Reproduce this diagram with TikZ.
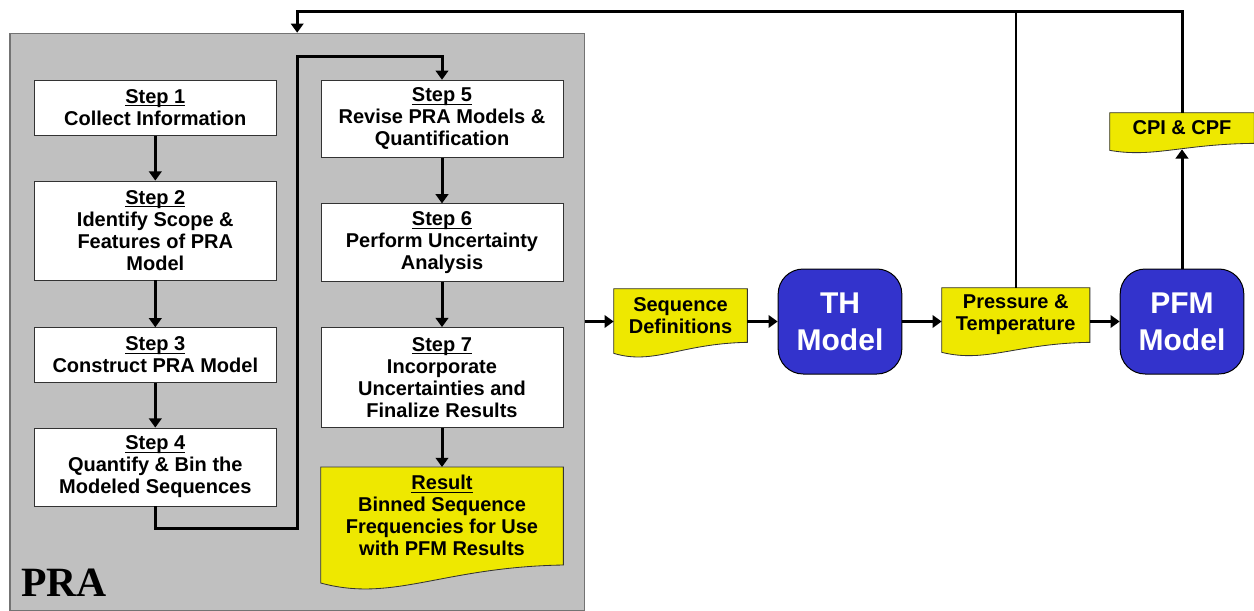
\documentclass[tikz,border=0pt]{standalone}
\usepackage{fontspec}
\setmainfont{Liberation Sans}
\newfontfamily\praserif{Liberation Serif}
\usetikzlibrary{arrows.meta,calc}

\definecolor{pragray}{RGB}{192,192,192}
\definecolor{docyellow}{RGB}{238,232,0}
\definecolor{modelblue}{RGB}{51,51,204}

\pgfdeclarelayer{bg}
\pgfdeclarelayer{docs}
\pgfsetlayers{bg,docs,main}

\newcommand\steplabel[1]{\underline{\smash{#1}}\vphantom{A}}

\tikzset{
  flow/.style={line width=1.8pt,-{Triangle[length=5.5pt,width=7.5pt]}},
  stepbox/.style={draw=black!80,fill=white,line width=0.5pt,minimum width=145.2pt,
    align=center,inner sep=2pt,font=\bfseries\fontsize{12}{13.2}\selectfont},
  docbox/.style={align=center,inner sep=0pt,font=\bfseries\fontsize{12}{13.2}\selectfont},
  modelbox/.style={draw=black,fill=modelblue,text=white,rounded corners=15pt,line width=0.6pt,
    minimum width=74.2pt,minimum height=63pt,align=center,font=\bfseries\fontsize{18}{22}\selectfont},
  prabox/.style={draw=black!55,fill=pragray,line width=0.8pt,minimum width=344.6pt,minimum height=346.6pt}
}

% yellow document outline with wavy bottom, #2 = wave depth
\newcommand\docshape[2]{%
  \filldraw[fill=docyellow,draw=black!80,line width=0.5pt] (#1.north west) -- (#1.north east) -- (#1.south east)
    .. controls ($(#1.south east)!0.5!(#1.south west)+(0,0.11*#2)$) and ($(#1.south east)!0.7!(#1.south west)+(0,2.1*#2)$)
    .. ($(#1.south west)+(0,#2)$) -- cycle;}

\begin{document}
\begin{tikzpicture}[x=0.6pt,y=-0.6pt]
\useasboundingbox (0,0) rectangle (1254,610);

\begin{pgfonlayer}{bg}
  \node[prabox] (pra) at (297.2,322.2) {};
\end{pgfonlayer}
\node[anchor=base west,inner sep=0pt,font=\praserif\bfseries\fontsize{25}{25}\selectfont] (pralabel) at (21,596.7) {PRA};

% steps
\node[stepbox,minimum height=33pt] (step1) at (155.3,107.7) {\steplabel{Step 1}\\Collect Information};
\node[stepbox,minimum height=59.4pt] (step2) at (155.3,230.5) {\steplabel{Step 2}\\Identify Scope \&\\Features of PRA\\Model};
\node[stepbox,minimum height=33pt] (step3) at (155.3,355.2) {\steplabel{Step 3}\\Construct PRA Model};
\node[stepbox,minimum height=46.8pt] (step4) at (155.3,467) {\steplabel{Step 4}\\Quantify \& Bin the\\Modeled Sequences};
\node[stepbox,minimum height=46.2pt] (step5) at (442,118.7) {\steplabel{Step 5}\\Revise PRA Models \&\\Quantification};
\node[stepbox,minimum height=46.8pt] (step6) at (442,242.8) {\steplabel{Step 6}\\Perform Uncertainty\\Analysis};
\node[stepbox,minimum height=60pt] (step7) at (442,377.5) {\steplabel{Step 7}\\Incorporate\\Uncertainties and\\Finalize Results};
\node[docbox,minimum width=145.2pt,minimum height=58.4pt] (result) at (442,516) {\steplabel{Result}\\Binned Sequence\\Frequencies for Use\\with PFM Results};

% models and data
\node[docbox,minimum width=79.8pt,minimum height=31.8pt] (seqdef) at (680.5,315.5) {Sequence\\Definitions};
\node[modelbox] (th) at (840,321.5) {TH\\Model};
\node[docbox,minimum width=88.5pt,minimum height=32.4pt] (press) at (1015.75,315) {Pressure \&\\Temperature};
\node[modelbox] (pfm) at (1182,321.5) {PFM\\Model};
\node[docbox,minimum width=86.4pt,minimum height=18pt] (cpi) at (1182,128) {CPI \& CPF};

\begin{pgfonlayer}{docs}
  \docshape{result}{18}
  \docshape{seqdef}{11}
  \docshape{press}{10}
  \docshape{cpi}{7}
\end{pgfonlayer}

\coordinate (loopa) at (297.7,528.3);
\coordinate (loopb) at (297.7,56);
\coordinate (fbtop) at (297.2,11);

\draw[flow] (step1) -- (step2);
\draw[flow] (step2) -- (step3);
\draw[flow] (step3) -- (step4);
\draw[flow] (step4.south) |- (loopa) -- (loopb) -| (step5.north);
\draw[flow] (step5) -- (step6);
\draw[flow] (step6) -- (step7);
\draw[flow] (step7) -- (result);

\draw[flow] (pra.east |- th) -- (seqdef.west |- th);
\draw[flow] (seqdef.east |- th) -- (th.west);
\draw[flow] (th.east) -- (press.west |- th);
\draw[flow] (press.east |- th) -- (pfm.west);
\draw[flow] (pfm.north) -- ($(cpi.south)+(0,6)$);
\draw[flow] (cpi.north) |- (fbtop) -- (pra.north);
\draw[line width=1.2pt] (press.north) -- (press.north |- fbtop);
\end{tikzpicture}
\end{document}
